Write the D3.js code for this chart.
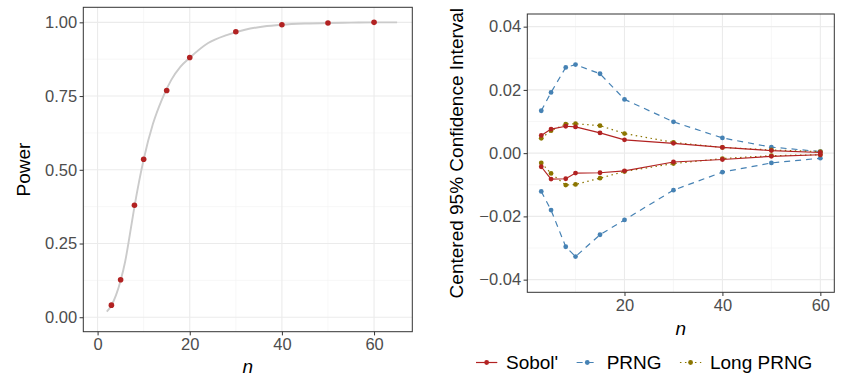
<!DOCTYPE html>
<html>
<head>
<meta charset="utf-8">
<script src="https://cdn.jsdelivr.net/npm/d3@7"></script>
<style>
  body { margin: 0; background: #fff; }
  svg { font-family: "Liberation Sans", Arial, Helvetica, sans-serif; }
  .tick line { stroke: #333; }
  .tick text { fill: #4d4d4d; font-size: 16.5px; }
</style>
</head>
<body>
<div id="chart"></div>
<script>
// left panel: power curve
const powerN = [3, 5, 8, 10, 15, 20, 30, 40, 50, 60];
const powerVal = [0.041, 0.127, 0.380, 0.536, 0.769, 0.881, 0.968, 0.992, 0.998, 1.0];
const curveN = [2, 3, 4, 5, 6, 7, 8, 9, 10, 12, 14, 16, 18, 20, 24, 28, 32, 36, 40, 45, 50, 55, 60, 65];
const curveVal = [0.019, 0.040, 0.075, 0.125, 0.19, 0.28, 0.375, 0.46, 0.535, 0.655, 0.74, 0.805, 0.85, 0.88,
                  0.93, 0.957, 0.975, 0.986, 0.992, 0.996, 0.998, 0.999, 1.0, 1.0];
const powerTicksY = [0, 0.25, 0.5, 0.75, 1];
const powerTicksX = [0, 20, 40, 60];

// right panel: centered 95% confidence intervals
const ciN = [3, 5, 8, 10, 15, 20, 30, 40, 50, 60];
const sobolUpper = [0.0056, 0.0076, 0.0085, 0.0083, 0.0064, 0.0042, 0.0031, 0.0018, 0.0008, 0.0002];
const sobolLower = [-0.0043, -0.0082, -0.0081, -0.0063, -0.0062, -0.0056, -0.0028, -0.0020, -0.0010, -0.0005];
const prngUpper = [0.0134, 0.0192, 0.0271, 0.0280, 0.0251, 0.0170, 0.0099, 0.0048, 0.0019, 0.0005];
const prngLower = [-0.0121, -0.0180, -0.0296, -0.0327, -0.0258, -0.0211, -0.0117, -0.0060, -0.0031, -0.0016];
const longUpper = [0.0047, 0.0071, 0.0092, 0.0093, 0.0087, 0.0062, 0.0034, 0.0018, 0.0010, 0.0005];
const longLower = [-0.0031, -0.0064, -0.0101, -0.0099, -0.0079, -0.0058, -0.0033, -0.0017, -0.0008, -0.0005];
const seriesNames = ["Sobol'", "PRNG", "Long PRNG"];
const ciTicksY = [-0.04, -0.02, 0, 0.02, 0.04];
const ciTicksX = [20, 40, 60];

const svg = d3.select("#chart").append("svg")
    .attr("width", 855)
    .attr("height", 387);

const fmtMinus = f => v => f(v).replace("-", "\u2212");

function panel(box, xDomain, yDomain, xTicks, yTicks, xMinor, yMinor, yFmt) {
    const x = d3.scaleLinear().domain(xDomain).range([box.left, box.right]);
    const y = d3.scaleLinear().domain(yDomain).range([box.bottom, box.top]);

    svg.append("rect")
        .attr("x", box.left).attr("y", box.top)
        .attr("width", box.right - box.left).attr("height", box.bottom - box.top)
        .attr("fill", "#fff");

    const grid = svg.append("g");
    grid.selectAll(".minx").data(xMinor).join("line")
        .attr("x1", d => x(d)).attr("x2", d => x(d))
        .attr("y1", box.top).attr("y2", box.bottom)
        .attr("stroke", "#f2f2f2").attr("stroke-width", 0.6);
    grid.selectAll(".miny").data(yMinor).join("line")
        .attr("y1", d => y(d)).attr("y2", d => y(d))
        .attr("x1", box.left).attr("x2", box.right)
        .attr("stroke", "#f2f2f2").attr("stroke-width", 0.6);
    grid.selectAll(".majx").data(xTicks).join("line")
        .attr("x1", d => x(d)).attr("x2", d => x(d))
        .attr("y1", box.top).attr("y2", box.bottom)
        .attr("stroke", "#ebebeb").attr("stroke-width", 1.1);
    grid.selectAll(".majy").data(yTicks).join("line")
        .attr("y1", d => y(d)).attr("y2", d => y(d))
        .attr("x1", box.left).attr("x2", box.right)
        .attr("stroke", "#ebebeb").attr("stroke-width", 1.1);

    const xa = svg.append("g")
        .attr("transform", "translate(0," + box.bottom + ")")
        .call(d3.axisBottom(x).tickValues(xTicks).tickSize(3.7).tickPadding(3).tickFormat(d3.format("d")));
    const ya = svg.append("g")
        .attr("transform", "translate(" + box.left + ",0)")
        .call(d3.axisLeft(y).tickValues(yTicks).tickSize(3.7).tickPadding(2.5).tickFormat(yFmt));
    xa.select(".domain").remove();
    ya.select(".domain").remove();
    xa.attr("font-family", null).attr("font-size", null);
    ya.attr("font-family", null).attr("font-size", null);

    return {x, y};
}

function border(box) {
    svg.append("rect")
        .attr("x", box.left).attr("y", box.top)
        .attr("width", box.right - box.left).attr("height", box.bottom - box.top)
        .attr("fill", "none").attr("stroke", "#333").attr("stroke-width", 1);
}

// ---- left panel
const boxL = {left: 83.3, right: 412.3, top: 7.3, bottom: 331.7};
const L = panel(boxL, [-3.1, 68.3], [-0.049, 1.051], powerTicksX, powerTicksY,
    [10, 30, 50], [0.125, 0.375, 0.625, 0.875], d3.format(".2f"));

svg.append("path")
    .datum(curveN.map((n, i) => [n, curveVal[i]]))
    .attr("fill", "none")
    .attr("stroke", "#cbcbcb")
    .attr("stroke-width", 1.9)
    .attr("d", d3.line().x(d => L.x(d[0])).y(d => L.y(d[1])).curve(d3.curveMonotoneX));

svg.append("g").selectAll("circle")
    .data(powerN.map((n, i) => [n, powerVal[i]]))
    .join("circle")
    .attr("cx", d => L.x(d[0]))
    .attr("cy", d => L.y(d[1]))
    .attr("r", 2.8)
    .attr("fill", "#B22222");
border(boxL);

svg.append("text")
    .attr("transform", "translate(30," + ((boxL.top + boxL.bottom) / 2) + ") rotate(-90)")
    .attr("text-anchor", "middle")
    .attr("font-size", 19)
    .text("Power");
svg.append("text")
    .attr("x", (boxL.left + boxL.right) / 2)
    .attr("y", 373)
    .attr("text-anchor", "middle")
    .attr("font-size", 19)
    .attr("font-style", "italic")
    .text("n");

// ---- right panel
const boxR = {left: 527.3, right: 834.3, top: 14, bottom: 292.3};
const R = panel(boxR, [0.15, 62.85], [-0.044, 0.044], ciTicksX, ciTicksY,
    [10, 30, 50], [-0.03, -0.01, 0.01, 0.03], fmtMinus(d3.format(".2f")));

const series = [
    {name: seriesNames[0], color: "#B22222", dash: null, bands: [sobolUpper, sobolLower]},
    {name: seriesNames[1], color: "#4682B4", dash: "6,5", bands: [prngUpper, prngLower]},
    {name: seriesNames[2], color: "#8B7500", dash: "1.5,3.5", bands: [longUpper, longLower]}
];

const ciLine = d3.line().x(d => R.x(d[0])).y(d => R.y(d[1]));

// draw PRNG first, then long PRNG, then Sobol' on top
[series[1], series[2], series[0]].forEach(s => {
    s.bands.forEach(vals => {
        const pts = ciN.map((n, i) => [n, vals[i]]);
        svg.append("path")
            .datum(pts)
            .attr("fill", "none")
            .attr("stroke", s.color)
            .attr("stroke-width", 1.2)
            .attr("stroke-dasharray", s.dash)
            .attr("d", ciLine);
        svg.append("g").selectAll("circle")
            .data(pts)
            .join("circle")
            .attr("cx", d => R.x(d[0]))
            .attr("cy", d => R.y(d[1]))
            .attr("r", 2.4)
            .attr("fill", s.color);
    });
});
border(boxR);

svg.append("text")
    .attr("transform", "translate(463," + ((boxR.top + boxR.bottom) / 2) + ") rotate(-90)")
    .attr("text-anchor", "middle")
    .attr("font-size", 19)
    .text("Centered 95% Confidence Interval");
svg.append("text")
    .attr("x", (boxR.left + boxR.right) / 2)
    .attr("y", 335)
    .attr("text-anchor", "middle")
    .attr("font-size", 19)
    .attr("font-style", "italic")
    .text("n");

// legend
const legend = svg.append("g");
let lx = 476;
const ly = 362.5;
series.forEach(s => {
    const g = legend.append("g");
    g.append("line")
        .attr("x1", lx).attr("x2", lx + 21.3)
        .attr("y1", ly).attr("y2", ly)
        .attr("stroke", s.color).attr("stroke-width", 1.2)
        .attr("stroke-dasharray", s.dash);
    g.append("circle")
        .attr("cx", lx + 10.65).attr("cy", ly).attr("r", 2.4)
        .attr("fill", s.color);
    const t = g.append("text")
        .attr("x", lx + 30)
        .attr("y", ly)
        .attr("dy", "0.35em")
        .attr("font-size", 19)
        .text(s.name);
    lx += 30 + t.node().getComputedTextLength() + 18.4;
});
</script>
</body>
</html>
